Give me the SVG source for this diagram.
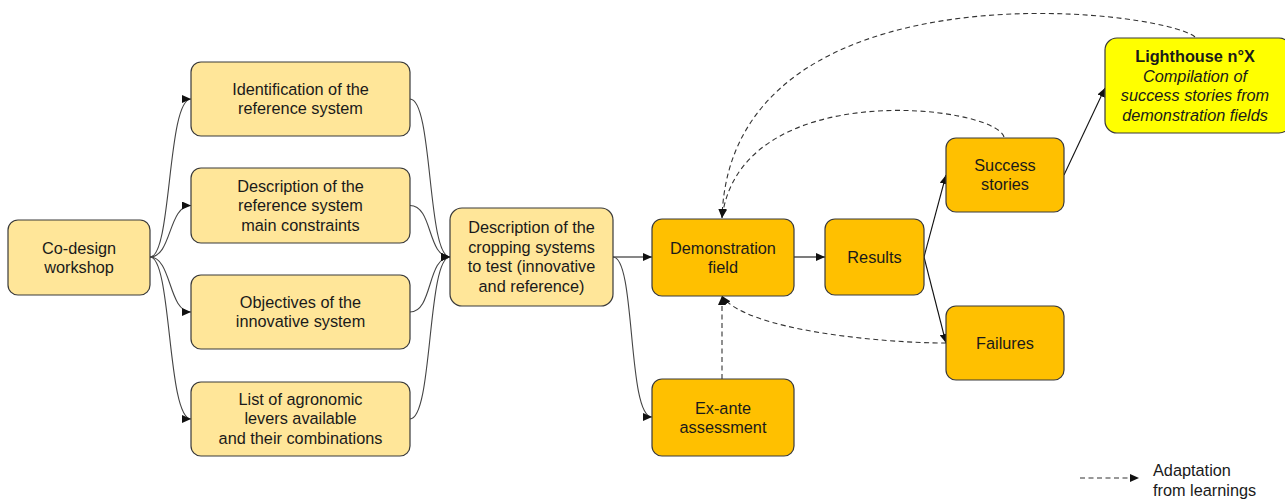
<svg xmlns="http://www.w3.org/2000/svg" width="1285" height="500" viewBox="0 0 1285 500">
<defs>
<marker id="arr" markerUnits="userSpaceOnUse" markerWidth="10" markerHeight="8" refX="9" refY="4" orient="auto">
<path d="M0,0 L9,4 L0,8 z" fill="#111"/>
</marker>
<style>
.box{stroke:#3a3a3a;stroke-width:1.2}
.light{fill:#FFE699}
.dark{fill:#FFC000}
.yel{fill:#FFFF00}
text{font-family:"Liberation Sans",Arial,sans-serif;font-size:16.3px;fill:#1a1a1a;text-anchor:middle}
.b{font-weight:bold}
.i{font-style:italic}
.c{fill:none;stroke:#444;stroke-width:1.1}
.s{fill:none;stroke:#111;stroke-width:1.1}
.d{fill:none;stroke:#333;stroke-width:1.1;stroke-dasharray:5,3.5}
</style>
</defs>
<rect width="1285" height="500" fill="#fff"/>
<g id="connectors">
<path class="c" d="M150,257 C172,257 167,99 191,99" marker-end="url(#arr)"/>
<path class="c" d="M150,257 C172,257 168,205.5 191,205.5" marker-end="url(#arr)"/>
<path class="c" d="M150,257 C172,257 168,312 191,312" marker-end="url(#arr)"/>
<path class="c" d="M150,257 C172,257 167,419 191,419" marker-end="url(#arr)"/>
<path class="c" d="M410,99 C433,99 427,257 450,257" marker-end="url(#arr)"/>
<path class="c" d="M410,205.5 C433,205.5 427,257 450,257" marker-end="url(#arr)"/>
<path class="c" d="M410,312 C433,312 427,257 450,257" marker-end="url(#arr)"/>
<path class="c" d="M410,419 C433,419 427,257 450,257" marker-end="url(#arr)"/>
<path class="s" d="M613,257 L652,257" marker-end="url(#arr)"/>
<path class="c" d="M613,257 C636,257 627,417 652,417" marker-end="url(#arr)"/>
<path class="s" d="M794,257 L825,257" marker-end="url(#arr)"/>
<path class="s" d="M924,257 L946,175" marker-end="url(#arr)"/>
<path class="s" d="M924,257 L946,343" marker-end="url(#arr)"/>
<path class="s" d="M1064,175 L1105,88" marker-end="url(#arr)"/>
<path class="d" d="M1195,37 C1160,8 730,-40 722,218" marker-end="url(#arr)"/>
<path class="d" d="M1004,137 C995,105 740,75 722,218" marker-end="url(#arr)"/>
<path class="d" d="M946,343 C880,343 745,330 722,296" marker-end="url(#arr)"/>
<path class="d" d="M722,379 L722,296" marker-end="url(#arr)"/>
<path class="d" d="M1080,478 L1139,478" marker-end="url(#arr)"/>
</g>
<g id="codesign"><rect class="box light" x="8" y="220" width="142" height="75" rx="10"/>
<text x="79" y="253.5">Co-design</text><text x="79" y="273">workshop</text></g>
<g id="n1"><rect class="box light" x="191" y="62" width="219" height="74" rx="10"/>
<text x="300.5" y="94.8">Identification of the</text><text x="300.5" y="114.3">reference system</text></g>
<g id="n2"><rect class="box light" x="191" y="168" width="219" height="75" rx="10"/>
<text x="300.5" y="191.5">Description of the</text><text x="300.5" y="211">reference system</text><text x="300.5" y="230.5">main constraints</text></g>
<g id="n3"><rect class="box light" x="191" y="275" width="219" height="74" rx="10"/>
<text x="300.5" y="307.5">Objectives of the</text><text x="300.5" y="327">innovative system</text></g>
<g id="n4"><rect class="box light" x="191" y="382" width="219" height="74" rx="10"/>
<text x="300.5" y="404.7">List of agronomic</text><text x="300.5" y="424.2">levers available</text><text x="300.5" y="443.7">and their combinations</text></g>
<g id="desc"><rect class="box light" x="450" y="208" width="163" height="98" rx="12"/>
<text x="531.5" y="233.3">Description of the</text><text x="531.5" y="252.8">cropping systems</text><text x="531.5" y="272.3">to test (innovative</text><text x="531.5" y="291.8">and reference)</text></g>
<g id="demo"><rect class="box dark" x="652" y="219" width="142" height="77" rx="10"/>
<text x="723" y="253.5">Demonstration</text><text x="723" y="273">field</text></g>
<g id="exante"><rect class="box dark" x="652" y="379" width="142" height="77" rx="10"/>
<text x="723" y="413.5">Ex-ante</text><text x="723" y="433">assessment</text></g>
<g id="results"><rect class="box dark" x="825" y="219" width="99" height="76" rx="10"/>
<text x="874.5" y="262.5">Results</text></g>
<g id="success"><rect class="box dark" x="946" y="138" width="118" height="74" rx="10"/>
<text x="1005" y="170.8">Success</text><text x="1005" y="190.3">stories</text></g>
<g id="failures"><rect class="box dark" x="946" y="306" width="118" height="74" rx="10"/>
<text x="1005" y="348.5">Failures</text></g>
<g id="lighthouse"><rect class="box yel" x="1105" y="38" width="186" height="95" rx="12"/>
<text class="b" x="1195" y="61.5">Lighthouse n°X</text><text class="i" x="1195" y="81.5">Compilation of</text><text class="i" x="1195" y="101">success stories from</text><text class="i" x="1195" y="120.5">demonstration fields</text></g>
<g id="legend"><text x="1153" y="476" style="text-anchor:start">Adaptation</text><text x="1153" y="496" style="text-anchor:start">from learnings</text></g>
</svg>
